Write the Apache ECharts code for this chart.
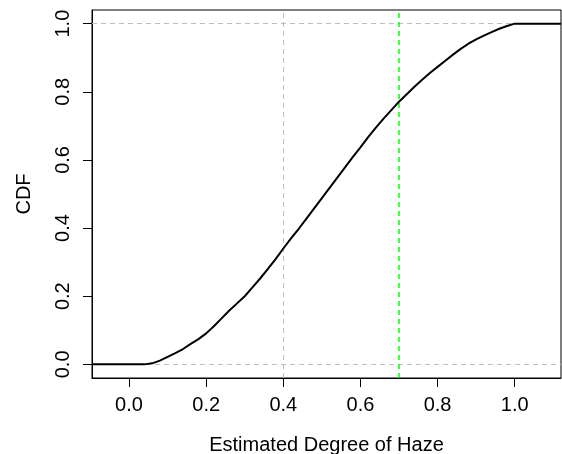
<!DOCTYPE html>
<html>
<head>
<meta charset="utf-8">
<script src="https://cdn.jsdelivr.net/npm/echarts@6/dist/echarts.min.js"></script>
<style>html,body{margin:0;padding:0;background:#fff;}#c{width:562px;height:454px;}</style>
</head>
<body>
<div id="c"></div>
<script>
var xValues = [-0.096, 0.04, 0.06, 0.08, 0.10, 0.12, 0.14, 0.16, 0.18, 0.20, 0.22, 0.24, 0.26, 0.28, 0.30, 0.32, 0.34, 0.36, 0.38, 0.40, 0.42, 0.44, 0.46, 0.48, 0.50, 0.52, 0.54, 0.56, 0.58, 0.60, 0.62, 0.64, 0.66, 0.68, 0.70, 0.72, 0.74, 0.76, 0.78, 0.80, 0.82, 0.84, 0.86, 0.88, 0.90, 0.92, 0.94, 0.96, 0.98, 1.00, 1.12];
var cdfValues = [0, 0, 0.003, 0.011, 0.022, 0.033, 0.045, 0.060, 0.074, 0.091, 0.112, 0.135, 0.158, 0.179, 0.200, 0.226, 0.252, 0.280, 0.309, 0.340, 0.370, 0.398, 0.428, 0.458, 0.488, 0.518, 0.548, 0.578, 0.608, 0.637, 0.667, 0.695, 0.721, 0.746, 0.771, 0.793, 0.815, 0.835, 0.855, 0.873, 0.891, 0.909, 0.926, 0.941, 0.954, 0.965, 0.975, 0.985, 0.993, 1.0, 1.0];
var xTicks = [0.0, 0.2, 0.4, 0.6, 0.8, 1.0];
var yTicks = [0.0, 0.2, 0.4, 0.6, 0.8, 1.0];
var hLines = [0, 1];
var vGrayLines = [0.4];
var vGreenLines = [0.7];

var font = 'Liberation Sans, Arial, sans-serif';
var chart = echarts.init(document.getElementById('c'), null, {renderer: 'canvas'});
var data = xValues.map(function (x, i) { return [x, cdfValues[i]]; });
var grayDash = {color: '#bebebe', type: [5, 4], width: 1};
var markData = [];
hLines.forEach(function (v) { markData.push({yAxis: v, lineStyle: grayDash}); });
vGrayLines.forEach(function (v) { markData.push({xAxis: v, lineStyle: grayDash}); });
vGreenLines.forEach(function (v) { markData.push({xAxis: v, lineStyle: {color: '#00ff00', type: [5, 4], width: 1.5}}); });

chart.setOption({
  animation: false,
  backgroundColor: '#fff',
  grid: {left: 92, right: 1, top: 10, bottom: 76, show: true, borderColor: '#000', borderWidth: 1, containLabel: false, outerBoundsMode: 'none'},
  xAxis: {
    type: 'value', min: -0.096, max: 1.12,
    name: 'Estimated Degree of Haze', nameLocation: 'middle', nameGap: 57,
    nameTextStyle: {fontFamily: font, fontSize: 20, color: '#000'},
    axisLine: {show: true, onZero: false, lineStyle: {color: '#000', width: 1}},
    axisTick: {show: true, inside: false, length: 9, lineStyle: {color: '#000'}, customValues: xTicks},
    axisLabel: {fontFamily: font, fontSize: 20, color: '#000', margin: 17, customValues: xTicks,
      formatter: function (v) { return v.toFixed(1); }},
    splitLine: {show: false}
  },
  yAxis: {
    type: 'value', min: -0.04, max: 1.04,
    name: 'CDF', nameLocation: 'middle', nameGap: 58, nameRotate: 90,
    nameTextStyle: {fontFamily: font, fontSize: 20, color: '#000'},
    axisLine: {show: true, onZero: false, lineStyle: {color: '#000', width: 1}},
    axisTick: {show: true, inside: false, length: 9, lineStyle: {color: '#000'}, customValues: yTicks},
    axisLabel: {fontFamily: font, fontSize: 20, color: '#000', margin: 19, rotate: 90, customValues: yTicks,
      formatter: function (v) { return v.toFixed(1); }},
    splitLine: {show: false}
  },
  series: [{
    type: 'line', data: data, showSymbol: false, symbol: 'none',
    lineStyle: {color: '#000', width: 2}, clip: true, z: 3,
    markLine: {silent: true, symbol: ['none', 'none'], label: {show: false}, data: markData, z: 1}
  }]
});
</script>
</body>
</html>
